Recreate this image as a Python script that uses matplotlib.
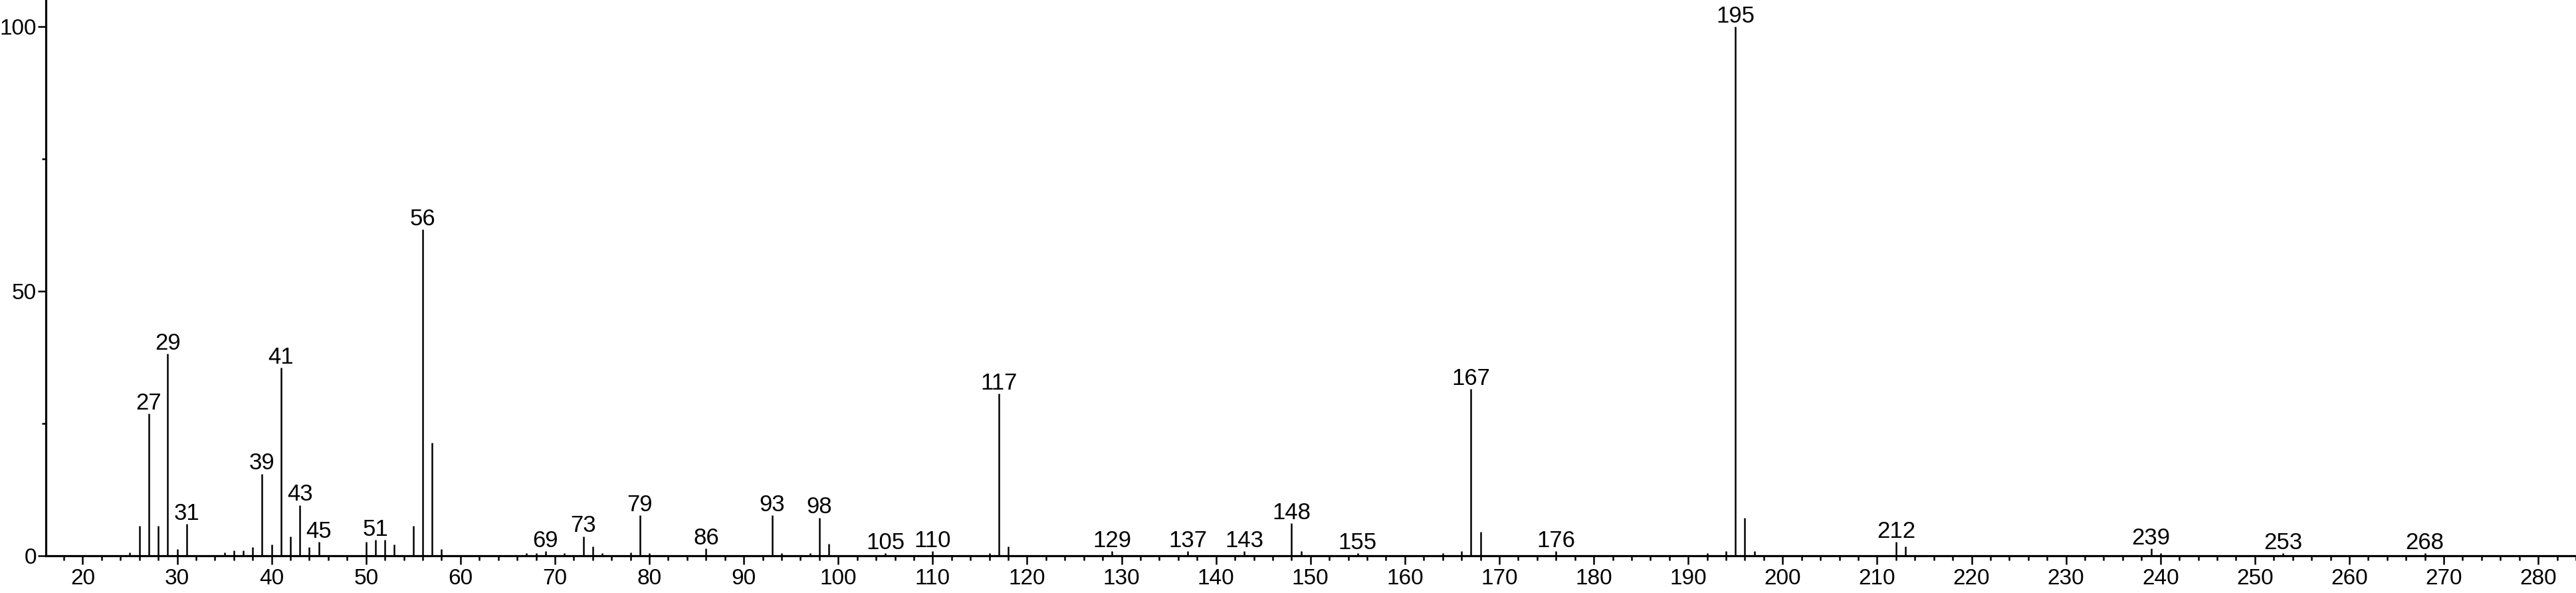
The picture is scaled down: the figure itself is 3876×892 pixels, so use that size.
import matplotlib
matplotlib.use("Agg")
import matplotlib.pyplot as plt
from matplotlib.ticker import MultipleLocator, FixedLocator

plt.rcParams['font.family'] = ['Liberation Sans', 'DejaVu Sans']

mz = [25, 26, 27, 28, 29, 30, 31, 35, 36, 37, 38, 39, 40, 41, 42, 43, 44, 45,
      50, 51, 52, 53, 55, 56, 57, 58, 67, 68, 69, 71, 73, 74, 75, 78, 79, 80,
      86, 93, 94, 97, 98, 99, 105, 110, 116, 117, 118, 129, 137, 143, 148, 149,
      155, 164, 166, 167, 168, 176, 192, 194, 195, 196, 197, 212, 213, 239, 240,
      253, 268]
intensity = [0.6, 5.6, 26.9, 5.6, 38.2, 1.3, 6.0, 0.6, 1.0, 1.0, 1.6, 15.5, 2.1, 35.5, 3.7, 9.6, 1.6, 2.6,
             2.6, 3.0, 3.0, 2.1, 5.6, 61.7, 21.4, 1.3, 0.5, 0.5, 0.9, 0.5, 3.7, 1.8, 0.5, 0.6, 7.6, 0.5,
             1.4, 7.6, 0.5, 0.5, 7.2, 2.2, 0.5, 0.9, 0.5, 30.6, 1.8, 0.9, 0.9, 0.9, 6.1, 0.9,
             0.5, 0.5, 0.9, 31.5, 4.5, 0.9, 0.5, 0.9, 100.0, 7.2, 0.9, 2.6, 1.8, 1.4, 0.5,
             0.5, 0.5]
labeled = [27, 29, 31, 39, 41, 43, 45, 51, 56, 69, 73, 79, 86, 93, 98, 105, 110,
           117, 129, 137, 143, 148, 155, 167, 176, 195, 212, 239, 253, 268]

fig = plt.figure(figsize=(38.76, 8.92), dpi=100)
ax = fig.add_axes([69/3876, 56/892, 1 - 69/3876, 836/892])

ax.vlines(mz, 0, intensity, color='black', lw=1.8)

lookup = dict(zip(mz, intensity))
for m in labeled:
    ax.annotate(str(m), xy=(m, lookup[m]), xytext=(0, 4.5), textcoords='offset points',
                ha='center', va='baseline', fontsize=25, color='black')

ax.set_xlim(16.1, 284.0)
ax.set_ylim(0, 105)

for s in ['top', 'right']:
    ax.spines[s].set_visible(False)
for s in ['left', 'bottom']:
    ax.spines[s].set_linewidth(2.3)

ax.xaxis.set_major_locator(MultipleLocator(10))
ax.xaxis.set_minor_locator(MultipleLocator(2))
ax.yaxis.set_major_locator(FixedLocator([0, 50, 100]))
ax.yaxis.set_minor_locator(FixedLocator([25, 75]))

ax.tick_params(axis='x', which='major', direction='out', length=9.5, width=1.8,
               pad=4, labelsize=24)
ax.tick_params(axis='x', which='minor', direction='out', length=5, width=1.8)
ax.tick_params(axis='y', which='major', direction='out', length=8.5, width=1.8,
               pad=1.5, labelsize=24)
ax.tick_params(axis='y', which='minor', direction='out', length=4.5, width=1.8)

ax.set_xticks([t for t in range(20, 290, 10) if t <= 280])

fig.savefig('out.png', dpi=100)
